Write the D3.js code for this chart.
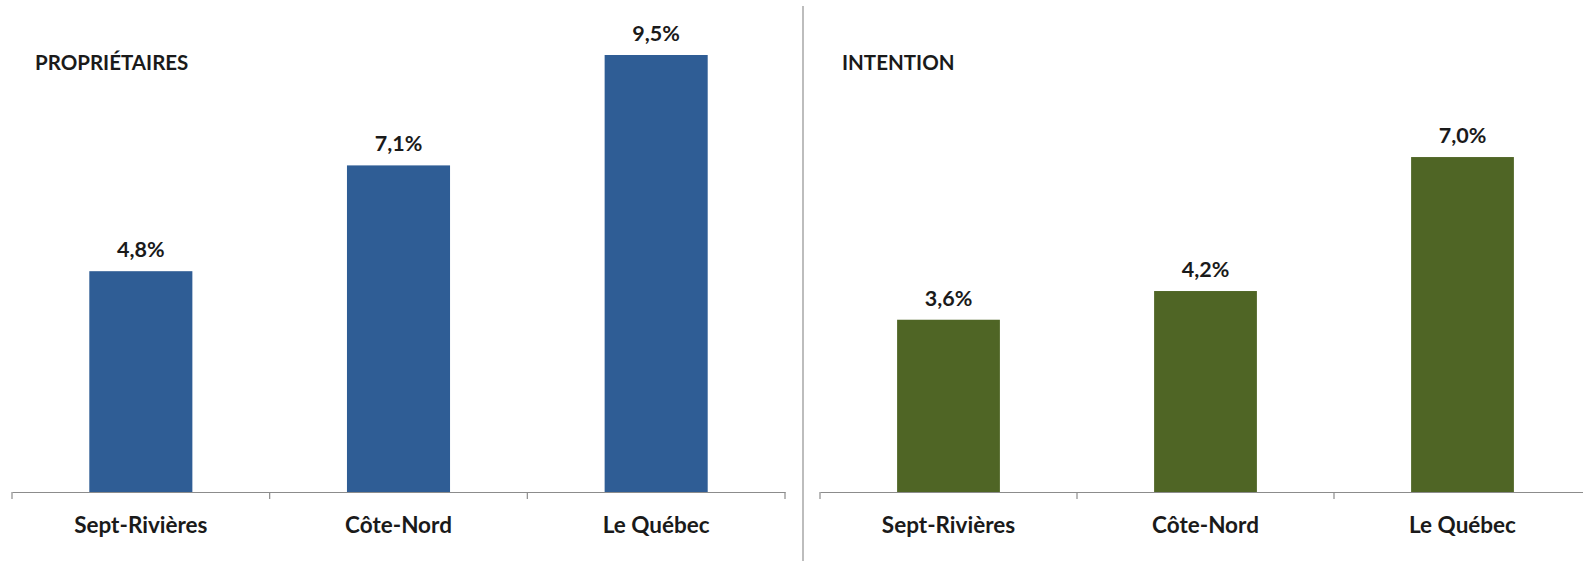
<!DOCTYPE html>
<html><head><meta charset="utf-8">
<script src="https://cdn.jsdelivr.net/npm/d3@7"></script>
<style>
html,body{margin:0;padding:0;background:#fff;}
svg{display:block;}
</style></head>
<body>
<svg id="chart" width="1583" height="561"></svg>
<script>
const categories = ["Sept-Rivières", "Côte-Nord", "Le Québec"];
const proprietaires = [4.8, 7.1, 9.5];
const intention = [3.6, 4.2, 7.0];
const panelTitles = ["PROPRIÉTAIRES", "INTENTION"];
const fmt = v => d3.format(".1f")(v).replace(".", ",") + "%";

const svg = d3.select("#chart");
const font = "Lato, 'Open Sans', sans-serif";

const panels = [
  {title: panelTitles[0], values: proprietaires, color: "#2f5d95", x0: 12, x1: 785, yTop: 32, titleX: 35},
  {title: panelTitles[1], values: intention, color: "#4f6525", x0: 820, x1: 1591, yTop: 13.5, titleX: 842}
];
const baseY = 492;

panels.forEach(p => {
  const g = svg.append("g");
  const x = d3.scaleBand().domain(categories).range([p.x0, p.x1]).padding(0);
  const y = d3.scaleLinear().domain([0, 10]).range([baseY, p.yTop]);
  const bw = x.bandwidth() * 0.4;

  g.selectAll("rect").data(p.values).join("rect")
    .attr("x", (d, i) => x(categories[i]) + x.bandwidth() / 2 - bw / 2)
    .attr("y", d => y(d))
    .attr("width", bw)
    .attr("height", d => y(0) - y(d))
    .attr("fill", p.color);

  g.selectAll("text.val").data(p.values).join("text")
    .attr("class", "val")
    .attr("x", (d, i) => x(categories[i]) + x.bandwidth() / 2)
    .attr("y", d => y(d) - 14)
    .attr("text-anchor", "middle")
    .attr("font-family", font).attr("font-weight", "bold").attr("font-size", 21.5)
    .attr("fill", "#1a1a1a")
    .text(d => fmt(d));

  const axis = d3.axisBottom(x).tickSize(0).tickSizeOuter(0);
  const ax = g.append("g").attr("transform", `translate(0,${baseY})`).call(axis);
  ax.select(".domain").attr("stroke", "#8c8c8c").attr("stroke-width", 1.2);
  ax.selectAll("text")
    .attr("dy", 0).attr("y", 41)
    .attr("font-family", font).attr("font-weight", "bold").attr("font-size", 22.5)
    .attr("fill", "#1a1a1a");
  const bounds = categories.map(c => x(c)).concat([x.range()[1]]);
  g.selectAll("line.tk").data(bounds).join("line")
    .attr("class", "tk")
    .attr("x1", d => d).attr("x2", d => d)
    .attr("y1", baseY).attr("y2", baseY + 7)
    .attr("stroke", "#8c8c8c").attr("stroke-width", 1.2);

  g.append("text")
    .attr("x", p.titleX).attr("y", 70)
    .attr("font-family", font).attr("font-weight", "bold").attr("font-size", 20.5)
    .attr("fill", "#1a1a1a")
    .text(p.title);
});

svg.append("line")
  .attr("x1", 803).attr("x2", 803).attr("y1", 6).attr("y2", 561)
  .attr("stroke", "#bdbdbd").attr("stroke-width", 2);
</script>
</body></html>
